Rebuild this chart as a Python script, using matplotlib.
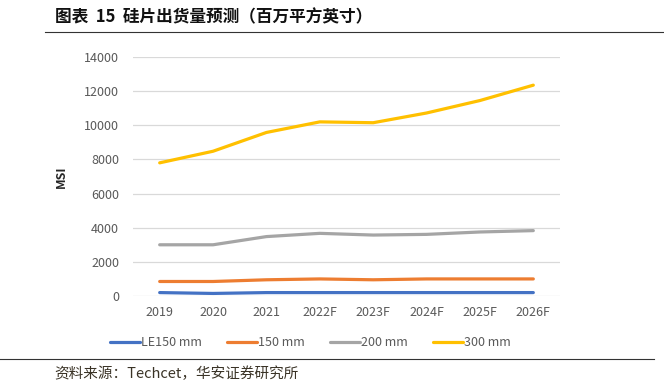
import numpy as np
import matplotlib.pyplot as plt

plt.rcParams['font.family'] = ['Noto Sans CJK SC', 'DejaVu Sans']

# Data
years = ['2019', '2020', '2021', '2022F', '2023F', '2024F', '2025F', '2026F']
le150 = [200, 150, 200, 200, 200, 200, 200, 200]
mm150 = [850, 850, 950, 1000, 950, 1000, 1000, 1000]
mm200 = [3000, 3000, 3480, 3670, 3570, 3610, 3750, 3830]
mm300 = [7800, 8480, 9580, 10200, 10150, 10720, 11450, 12350]

series = [('LE150 mm', le150, '#4472C4'),
          ('150 mm', mm150, '#ED7D31'),
          ('200 mm', mm200, '#A5A5A5'),
          ('300 mm', mm300, '#FFC000')]

fig = plt.figure(figsize=(6.64, 3.91), dpi=100)
ax = fig.add_axes([133/664, 95/391, 427/664, 239/391])

x = np.arange(len(years))
for name, vals, col in series:
    ax.plot(x, vals, color=col, lw=2.3, label=name, solid_capstyle='round')

ax.set_xlim(-0.5, len(years) - 0.5)
ax.set_ylim(0, 14000)
ax.set_yticks(np.arange(0, 14001, 2000))
ax.set_xticks(x)
ax.set_xticklabels(years)
ax.tick_params(length=0, labelsize=9, colors='#595959', pad=7)
ax.tick_params(axis='y', pad=10)
ax.grid(axis='y', color='#D9D9D9', lw=0.9)
ax.set_axisbelow(True)
for s in ax.spines.values():
    s.set_visible(False)
ax.set_ylabel('MSI', fontsize=9, fontweight='bold', color='#262626', labelpad=12)

ax.legend(loc='upper center', bbox_to_anchor=(0.416, -0.12), ncol=4, frameon=False,
          fontsize=9, handlelength=2.4, handletextpad=0.1, columnspacing=2.0,
          labelcolor='#595959')

# Title and source
fig.text(55/664, 1 - 17/391, '图表  15  硅片出货量预测（百万平方英寸）', fontsize=12,
         fontweight='bold', va='center', ha='left', color='#111111')
fig.add_artist(plt.Line2D([45/664, 1], [1 - 32/391, 1 - 32/391], color='#333333', lw=0.8))
fig.add_artist(plt.Line2D([0, 654/664], [1 - 359/391, 1 - 359/391], color='#333333', lw=0.8))
fig.text(54/664, 1 - 374/391, '资料来源：Techcet，华安证券研究所', fontsize=10.5,
         va='center', ha='left', color='#3a3326')

fig.savefig('out.png', dpi=100)
